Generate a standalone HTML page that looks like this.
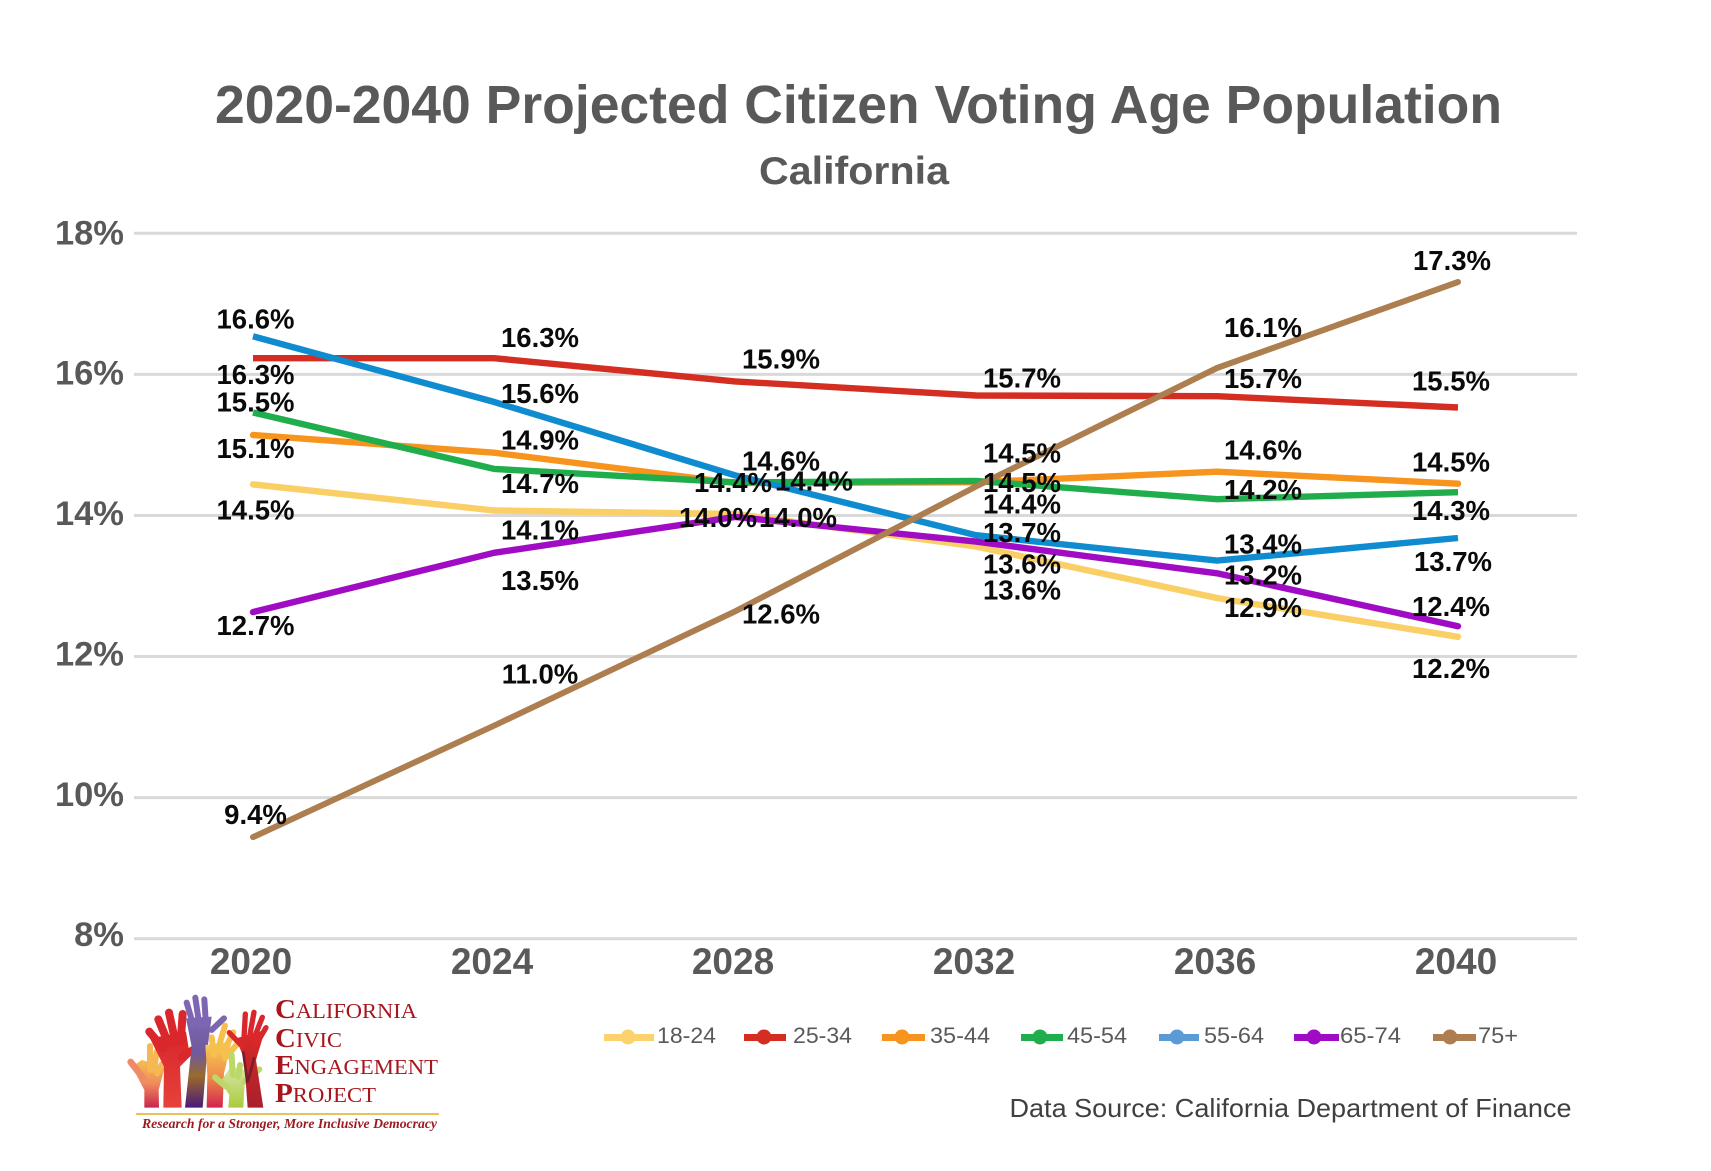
<!DOCTYPE html>
<html lang="en">
<head>
<meta charset="utf-8">
<title>2020-2040 Projected Citizen Voting Age Population - California</title>
<style>
html,body{margin:0;padding:0;background:#fff;width:1711px;height:1171px;overflow:hidden}
svg{display:block}
text{font-family:"Liberation Sans",sans-serif}
.serif{font-family:"Liberation Serif",serif}
</style>
</head>
<body>
<svg id="chart" xmlns="http://www.w3.org/2000/svg" width="1711" height="1171" viewBox="0 0 1711 1171">
  <rect width="1711" height="1171" fill="#ffffff"/>
  <text x="215" y="123" font-size="54" font-weight="700" fill="#595959" textLength="1287" lengthAdjust="spacingAndGlyphs">2020-2040 Projected Citizen Voting Age Population</text>
  <text x="759" y="184" font-size="39" font-weight="700" fill="#595959" textLength="190" lengthAdjust="spacingAndGlyphs">California</text>
  <g id="grid"></g>
  <g id="yticks"></g>
  <g id="xticks"></g>
  <g id="series"></g>
  <g id="labels"></g>
  <g id="legend"></g>
  <text x="1009.5" y="1117" font-size="26" fill="#404040" textLength="562" lengthAdjust="spacingAndGlyphs">Data Source: California Department of Finance</text>

  <g>
    <defs>
      <linearGradient id="gCoral" x1="0" y1="0" x2="0" y2="1"><stop offset="0" stop-color="#f5c04d"/><stop offset=".5" stop-color="#f08a5d"/><stop offset="1" stop-color="#c9244f"/></linearGradient>
      <linearGradient id="gRed" x1="0" y1="0" x2="0" y2="1"><stop offset="0" stop-color="#d8262c"/><stop offset="1" stop-color="#e8413a"/></linearGradient>
      <linearGradient id="gPurple" x1="0" y1="0" x2="0" y2="1"><stop offset="0" stop-color="#7d66b3"/><stop offset=".4" stop-color="#6f5a9c"/><stop offset=".65" stop-color="#9a6a2c"/><stop offset="1" stop-color="#4a1a7a"/></linearGradient>
      <linearGradient id="gYellow" x1="0" y1="0" x2="0" y2="1"><stop offset="0" stop-color="#f7cf55"/><stop offset=".55" stop-color="#ee8a4a"/><stop offset="1" stop-color="#d2224f"/></linearGradient>
      <linearGradient id="gGreen" x1="0" y1="0" x2="0" y2="1"><stop offset="0" stop-color="#d8e6a6"/><stop offset="1" stop-color="#a9cb3d"/></linearGradient>
      <linearGradient id="gDark" x1="0" y1="0" x2="0" y2="1"><stop offset="0" stop-color="#da2a25"/><stop offset="1" stop-color="#a9202e"/></linearGradient>
    </defs>
    <g transform="translate(100 960) scale(.3333)" fill="none" stroke-linecap="round" stroke-linejoin="round">
      <g>
        <path d="M133 443 L133 390 L96 320 L125 300 L195 320 L176 390 L177 443 Z" fill="url(#gCoral)"/>
        <path d="M92 306 L130 355" stroke="#ee8a68" stroke-width="20"/>
        <path d="M150 258 L150 330 M170 275 L162 330 M186 312 L172 340" stroke="#f5b852" stroke-width="18"/>
      </g>
      <g>
        <path d="M190 443 L192 320 L150 235 L258 215 L270 290 L240 320 L245 443 Z" fill="url(#gRed)"/>
        <path d="M148 215 L190 265 M175 178 L205 250 M207 158 L226 245 M248 162 L242 245 M245 290 L305 255" stroke="#d9272b" stroke-width="24"/>
      </g>
      <g>
        <path d="M255 443 L275 260 L258 175 L335 170 L322 270 L308 443 Z" fill="url(#gPurple)"/>
        <path d="M260 128 L280 195 M286 113 L298 195 M313 118 L318 195 M335 210 L372 175" stroke="#7d66b3" stroke-width="18"/>
      </g>
      <g>
        <path d="M320 443 L322 345 L316 255 L395 245 L372 340 L368 443 Z" fill="url(#gYellow)"/>
        <path d="M335 232 L342 285 M375 197 L352 275 M400 217 L368 280 M412 252 L375 295" stroke="#f5c04d" stroke-width="18"/>
      </g>
      <g>
        <path d="M385 443 L388 405 L362 365 L392 320 L438 330 L432 400 L430 443 Z" fill="url(#gGreen)"/>
        <path d="M395 285 L398 345 M420 315 L415 350 M345 352 L378 380 M478 328 L432 365" stroke="#bcd86a" stroke-width="18"/>
      </g>
      <g>
        <path d="M443 443 L432 295 L408 235 L495 210 L468 300 L490 443 Z" fill="url(#gDark)"/>
        <path d="M436 162 L432 235 M462 157 L448 235 M487 172 L460 240 M498 203 L470 250 M388 218 L428 260" stroke="#d9272b" stroke-width="16"/>
        <path d="M430 278 L442 365 M462 295 L445 360" stroke="#7a1d2a" stroke-width="8"/>
      </g>
    </g>
    <text class="serif" x="275" y="1018" fill="#a8161d" font-size="21" textLength="142" lengthAdjust="spacingAndGlyphs"><tspan font-size="27" font-weight="700">C</tspan>ALIFORNIA</text>
    <text class="serif" x="275" y="1047" fill="#a8161d" font-size="21" textLength="67" lengthAdjust="spacingAndGlyphs"><tspan font-size="27" font-weight="700">C</tspan>IVIC</text>
    <text class="serif" x="275" y="1074" fill="#a8161d" font-size="21" textLength="163" lengthAdjust="spacingAndGlyphs"><tspan font-size="27" font-weight="700">E</tspan>NGAGEMENT</text>
    <text class="serif" x="275" y="1102" fill="#a8161d" font-size="21" textLength="101" lengthAdjust="spacingAndGlyphs"><tspan font-size="27" font-weight="700">P</tspan>ROJECT</text>
    <rect x="136" y="1113" width="303" height="2" fill="#e8c25a"/>
    <text class="serif" x="142" y="1128" fill="#9c1a1f" font-size="13.5" font-weight="700" font-style="italic" textLength="295" lengthAdjust="spacingAndGlyphs">Research for a Stronger, More Inclusive Democracy</text>
  </g>
</svg>
<script>
const years = ['2020', '2024', '2028', '2032', '2036', '2040'];
const yTicks = [18, 16, 14, 12, 10, 8];
const seriesNames = ['18-24', '25-34', '35-44', '45-54', '55-64', '65-74', '75+'];

const values1824 = [14.44, 14.07, 14.02, 13.56, 12.83, 12.28];
const values2534 = [16.23, 16.23, 15.90, 15.70, 15.69, 15.53];
const values3544 = [15.14, 14.89, 14.46, 14.47, 14.62, 14.45];
const values4554 = [15.46, 14.66, 14.47, 14.49, 14.23, 14.33];
const values5564 = [16.54, 15.61, 14.57, 13.72, 13.36, 13.68];
const values6574 = [12.63, 13.47, 13.98, 13.63, 13.18, 12.43];
const values75up = [9.44, 11.02, 12.64, 14.41, 16.09, 17.31];

const printed1824 = ['14.5%', '14.1%', '14.0%', '13.6%', '12.9%', '12.2%'];
const printed2534 = ['16.3%', '16.3%', '15.9%', '15.7%', '15.7%', '15.5%'];
const printed3544 = ['15.1%', '14.9%', '14.4%', '14.5%', '14.6%', '14.5%'];
const printed4554 = ['15.5%', '14.7%', '14.4%', '14.5%', '14.2%', '14.3%'];
const printed5564 = ['16.6%', '15.6%', '14.6%', '13.7%', '13.4%', '13.7%'];
const printed6574 = ['12.7%', '13.5%', '14.0%', '13.6%', '13.2%', '12.4%'];
const printed75up = ['9.4%', '11.0%', '12.6%', '14.4%', '16.1%', '17.3%'];

const allValues = [values1824, values2534, values3544, values4554, values5564, values6574, values75up];
const allPrinted = [printed1824, printed2534, printed3544, printed4554, printed5564, printed6574, printed75up];

/* presentation only: colours and hand-placed label nudges relative to each mark */
const lineColors = ['#f9cf66', '#d42d22', '#f7941d', '#1fae4b', '#0f8bd0', '#a00cc4', '#ad7f50'];
const legendColors = ['#fcd26e', '#d42d22', '#f7941d', '#1fae4b', '#5b9bd5', '#a00cc4', '#ad7f50'];
const lineCaps = ['round', 'butt', 'round', 'butt', 'butt', 'round', 'round'];
const nudgeY = [
  [26, 20, 4, 44, 10, 32],
  [17, -20, -22, -17, -17, -26],
  [14, -12, 0, -29, -21, -21],
  [-10, 15, -1, 2, -9, 19],
  [-17, -8, -14, -2, -16, 24],
  [14, 28, 1, 23, 2, -19],
  [-22, -51, 3, 18, -40, -21]
];
const nudgeX = [
  [2.5, 46, -17, 46, 46, -7],
  [2.5, 46, 46, 46, 46, -7],
  [2.5, 46, -2, 46, 46, -7],
  [2.5, 46, 79, 46, 46, -7],
  [2.5, 46, 46, 46, 46, -5],
  [2.5, 46, 63, 46, 46, -7],
  [2.5, 46, 46, 46, 46, -6]
];
const legendLayout = [
  [604, 654, 628, 657, 59],
  [744, 786, 764, 793, 59],
  [882, 925, 902, 930, 60],
  [1021, 1063, 1040, 1067, 60],
  [1159, 1199, 1177, 1204, 60],
  [1294, 1339, 1314, 1340, 61],
  [1433, 1476, 1450, 1478, 40]
];

const NS = 'http://www.w3.org/2000/svg';
function xScale(i) { return 253 + i * 241; }
function yScale(v) { return 233.3 + (18 - v) * 70.54; }
function make(tag, parent, attrs) {
  const el = document.createElementNS(NS, tag);
  for (const k in attrs) el.setAttribute(k, attrs[k]);
  parent.appendChild(el);
  return el;
}

const gridG = document.getElementById('grid');
const yG = document.getElementById('yticks');
yTicks.forEach(function (t) {
  const line = make('line', gridG, { x1: 134, x2: 1577, y1: yScale(t), y2: yScale(t), stroke: '#d9d9d9', 'stroke-width': 3 });
  
  
  const label = make('text', yG, { x: 124, y: yScale(t) + 11 - (18 - t) * 0.35, 'text-anchor': 'end', 'font-size': 34.5, 'font-weight': 700, fill: '#595959' });
  
  
  label.textContent = t + '%';
});

const xG = document.getElementById('xticks');
years.forEach(function (yr, i) {
  const label = make('text', xG, { x: xScale(i) - 2, y: 974, 'text-anchor': 'middle', 'font-size': 37, 'font-weight': 700, fill: '#595959' });
  
  
  label.textContent = yr;
});

const seriesG = document.getElementById('series');
allValues.forEach(function (vals, s) {
  const d = vals.map(function (v, i) { return (i ? 'L' : 'M') + xScale(i) + ' ' + yScale(v).toFixed(1); }).join(' ');
  const path = make('path', seriesG, { d: d, fill: 'none', stroke: lineColors[s], 'stroke-width': s === 6 ? 6 : 6.4, 'stroke-linecap': lineCaps[s], 'stroke-linejoin': 'round' });
  
  
});

const labelG = document.getElementById('labels');
allValues.forEach(function (vals, s) {
  vals.forEach(function (v, i) {
    const label = make('text', labelG, { x: xScale(i) + nudgeX[s][i], y: yScale(v) + nudgeY[s][i] + 9, 'text-anchor': 'middle', 'font-size': 27.5, 'font-weight': 700, fill: '#0a0a0a' });
    
    
    label.textContent = allPrinted[s][i];
  });
});

const legendG = document.getElementById('legend');
seriesNames.forEach(function (name, s) {
  const L = legendLayout[s];
  const entry = make('g', legendG, {});
  
  
  make('line', entry, { x1: L[0], x2: L[1], y1: 1037.5, y2: 1037.5, stroke: legendColors[s], 'stroke-width': 7 });
  make('circle', entry, { cx: L[2], cy: 1037, r: 7.5, fill: legendColors[s] });
  const label = make('text', entry, { x: L[3], y: 1043, 'font-size': 22, fill: '#595959', textLength: L[4], lengthAdjust: 'spacingAndGlyphs' });
  label.textContent = name;
});
</script>
</body>
</html>
